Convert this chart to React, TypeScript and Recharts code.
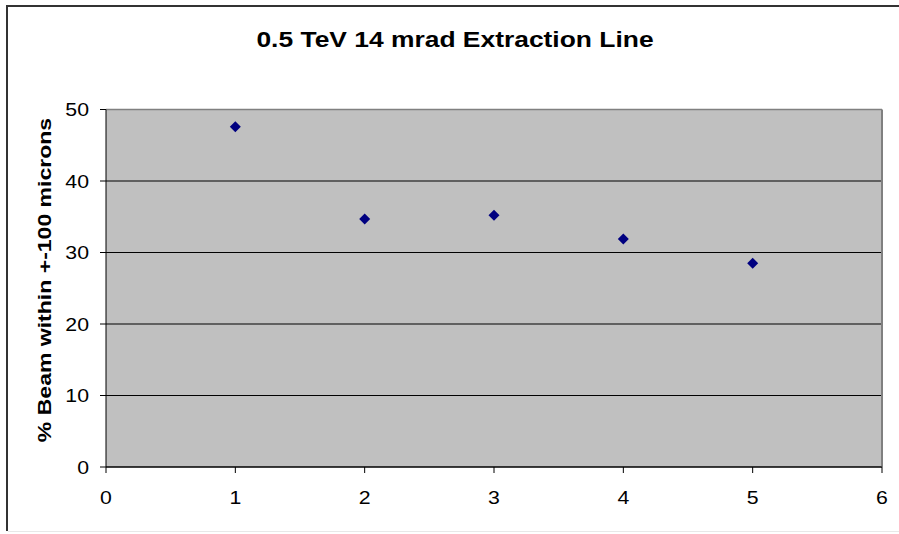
import { ScatterChart, Scatter, XAxis, YAxis, CartesianGrid, ReferenceLine } from "recharts"

const runs = [1, 2, 3, 4, 5]
const beamPct = [47.6, 34.7, 35.2, 31.9, 28.5]
const xTicks = [0, 1, 2, 3, 4, 5, 6]
const yTicks = [0, 10, 20, 30, 40, 50]

const data = runs.map((r, i) => ({ x: r, y: beamPct[i] }))

const font = '"Liberation Sans", Arial, sans-serif'

// excel's text comes out a bit wider than arial, so stretch it a little
const XTick = (props: any) => {
	const { x, y, payload } = props
	return (
		<text
			transform={`translate(${x} ${y}) scale(1.12 1)`}
			textAnchor="middle"
			dominantBaseline="central"
			fontSize={19}
			fontFamily={font}
			fill="#000"
		>
			{payload.value}
		</text>
	)
}

const YTick = (props: any) => {
	const { x, y, payload } = props
	return (
		<text
			transform={`translate(${x} ${y}) scale(1.12 1)`}
			textAnchor="end"
			dominantBaseline="central"
			fontSize={19}
			fontFamily={font}
			fill="#000"
		>
			{payload.value}
		</text>
	)
}

const Diamond = (props: any) => {
	const { cx, cy } = props
	const r = 5.5
	return (
		<polygon
			points={`${cx},${cy - r} ${cx + r},${cy} ${cx},${cy + r} ${cx - r},${cy}`}
			fill="#000080"
		/>
	)
}

const line = (style: any) => <div style={{ position: "absolute", ...style }} />

const App = () => (
	<div
		style={{
			position: "fixed",
			left: 0,
			top: 0,
			width: 899,
			height: 534,
			overflow: "hidden",
			background: "#fff",
			fontFamily: font,
		}}
	>
		{/* chart frame: only top/left/bottom edges are in view */}
		{line({ left: 6, top: 5, width: 893, height: 2, background: "#333" })}
		{line({ left: 6, top: 5, width: 2, height: 526, background: "#333" })}
		{line({ left: 8, top: 531, width: 891, height: 1, background: "#e8e8e8" })}
		<div
			style={{
				position: "absolute",
				left: 0,
				top: 27,
				width: 910,
				textAlign: "center",
				fontWeight: "bold",
				fontSize: 22,
				lineHeight: "26px",
				transform: "scaleX(1.2)",
				transformOrigin: "455px 0",
			}}
		>
			0.5 TeV 14 mrad Extraction Line
		</div>
		<ScatterChart
			width={899}
			height={534}
			margin={{ top: 109.5, right: 17, left: 0, bottom: 0 }}
			style={{ position: "absolute", left: 0, top: 0 }}
		>
			<CartesianGrid vertical={false} fill="#C0C0C0" stroke="#000" fillOpacity={1} />
			<ReferenceLine y={50} stroke="#808080" strokeWidth={1.5} />
			<ReferenceLine x={6} stroke="#808080" strokeWidth={2} />
			<XAxis
				type="number"
				dataKey="x"
				domain={[0, 6]}
				ticks={xTicks}
				height={67}
				axisLine={{ stroke: "#000" }}
				tickLine={{ stroke: "#000" }}
				tickSize={6}
				tickMargin={24}
				tick={<XTick />}
			/>
			<YAxis
				type="number"
				dataKey="y"
				domain={[0, 50]}
				ticks={yTicks}
				width={106}
				axisLine={{ stroke: "#000" }}
				tickLine={{ stroke: "#000" }}
				tickSize={6}
				tickMargin={11}
				tick={<YTick />}
				label={{
					content: () => (
						<text
							transform="translate(44 280) rotate(-90) scale(1.28 1)"
							textAnchor="middle"
							dominantBaseline="central"
							fontWeight="bold"
							fontSize={18}
							fontFamily={font}
							fill="#000"
						>
							% Beam within +-100 microns
						</text>
					),
				}}
			/>
			<Scatter data={data} shape={Diamond} isAnimationActive={false} />
		</ScatterChart>
	</div>
)

export default App
